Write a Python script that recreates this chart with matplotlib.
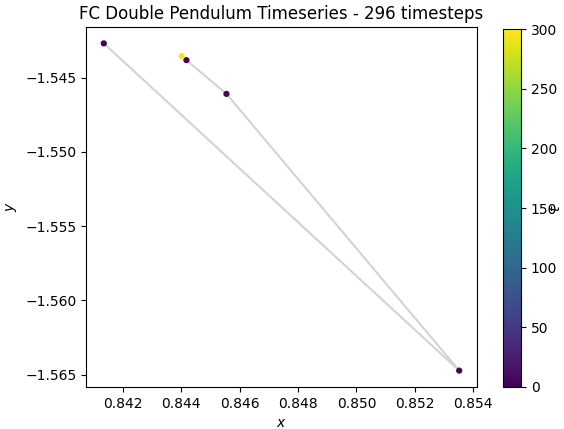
import matplotlib
matplotlib.use("Agg")
import matplotlib.pyplot as plt
import numpy as np

# visible states of the pendulum tip (the rest sit under the last point)
T = [0, 1, 2, 3, 295]
X = [0.84135, 0.85352, 0.84555, 0.84418, 0.84402]
Y = [-1.54269, -1.56473, -1.54609, -1.54382, -1.54355]
N_STEPS = 296
T_MAX = 300

fig = plt.figure(figsize=(5.64, 4.29), dpi=100)
ax = fig.add_axes([0.1525, 0.098, 0.6932, 0.839])
cax = fig.add_axes([0.892, 0.098, 0.032, 0.834])

ax.plot(X, Y, color="lightgray", lw=1.5, zorder=1)
sc = ax.scatter(X, Y, c=T, cmap="viridis", vmin=0, vmax=T_MAX, s=12, zorder=2)
ax.set_title(f"FC Double Pendulum Timeseries - {N_STEPS} timesteps")
ax.set_xlabel("$x$")
ax.set_ylabel("$y$")
ax.set_xticks(np.arange(0.842, 0.8541, 0.002))
ax.set_yticks([-1.565, -1.560, -1.555, -1.550, -1.545])

cb = fig.colorbar(sc, cax=cax)
cb.set_ticks([0, 50, 100, 150, 200, 250, 300])
cb.set_label("$t$", labelpad=-6)

fig.savefig("out.png", facecolor="white")
